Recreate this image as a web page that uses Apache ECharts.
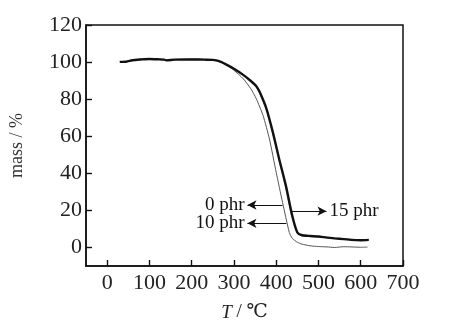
<!DOCTYPE html>
<html>
<head>
<meta charset="utf-8">
<script src="https://cdn.jsdelivr.net/npm/echarts@6/dist/echarts.min.js"></script>
<style>
  html, body { margin: 0; padding: 0; background: #fff; }
  #chart { width: 450px; height: 327px; }
</style>
</head>
<body>
<div id="chart"></div>
<script>
// TGA curves: temperature (°C) vs residual mass (%)
const temp0 = [30, 45, 60, 80, 100, 120, 135, 140, 160, 200, 230, 250, 265, 280, 300, 322, 340, 353, 369, 384, 400, 415, 431, 438, 450, 461, 480, 500, 520, 538, 560, 577, 600, 616];
const mass0 = [100.2, 100.3, 101.1, 101.5, 101.8, 101.6, 101.4, 101.0, 101.4, 101.5, 101.4, 101.3, 100.6, 98.8, 95.6, 91.0, 85.6, 80.2, 71.1, 58.5, 40.5, 24.3, 8.1, 4.9, 2.8, 1.8, 0.9, 0.5, 0.3, 0.0, 0.4, 0.3, 0.1, 0.2];

const temp10 = [30, 45, 60, 80, 100, 120, 135, 140, 160, 200, 230, 250, 265, 280, 300, 322, 340, 353, 361, 377, 392, 407, 421, 436, 448, 458, 480, 500, 520, 538, 560, 577, 600, 619];
const mass10 = [100.2, 100.3, 101.1, 101.5, 101.8, 101.6, 101.4, 101.0, 101.4, 101.5, 101.4, 101.3, 100.5, 98.8, 96.2, 92.8, 89.6, 86.4, 83.0, 74.0, 61.5, 47.0, 33.5, 17.5, 8.8, 7.2, 6.4, 6.0, 5.5, 5.1, 4.7, 4.4, 4.2, 4.3];

const temp15 = [30, 45, 60, 80, 100, 120, 135, 140, 160, 200, 230, 250, 265, 280, 300, 322, 340, 353, 361, 377, 392, 407, 423, 438, 450, 461, 480, 500, 520, 538, 560, 577, 600, 619];
const mass15 = [100.1, 100.2, 101.0, 101.4, 101.7, 101.5, 101.3, 100.9, 101.3, 101.4, 101.3, 101.2, 100.5, 98.9, 96.4, 93.1, 89.8, 87.0, 83.8, 74.8, 62.2, 47.7, 33.3, 17.1, 8.1, 6.6, 6.2, 5.9, 5.3, 4.9, 4.5, 4.1, 3.9, 4.1];

// Axis ticks
const xTicks = [0, 100, 200, 300, 400, 500, 600, 700];
const yTicks = [0, 20, 40, 60, 80, 100, 120];

// Annotation arrows: [label, y level, start T, end T]
const notes = [
  ['0 phr', 22.9, 415, 332],
  ['10 phr', 13.0, 424, 332],
  ['15 phr', 19.6, 433, 519]
];

const pair = (xs, ys) => xs.map((x, i) => [x, ys[i]]);
const FONT = '"Liberation Serif", "DejaVu Serif", serif';

function arrowLine(n) {
  return {
    silent: true,
    symbol: ['none', 'arrow'],
    symbolSize: [7, 9],
    lineStyle: { color: '#111', width: 1, type: 'solid' },
    label: {
      show: true, position: 'end', formatter: n[0], distance: 3,
      fontFamily: FONT, fontSize: 19, color: '#111'
    },
    data: [[{ coord: [n[2], n[1]] }, { coord: [n[3], n[1]] }]]
  };
}

const chart = echarts.init(document.getElementById('chart'), null, { renderer: 'canvas' });
chart.setOption({
  animation: false,
  backgroundColor: '#fff',
  grid: {
    left: 78, right: 47, top: 25, bottom: 61,
    show: true, borderColor: '#111', borderWidth: 1.5, backgroundColor: 'transparent'
  },
  xAxis: {
    type: 'value', min: -50, max: 700,
    name: '{i|T} / ℃', nameLocation: 'middle', nameGap: 37,
    nameTextStyle: {
      fontFamily: FONT, fontSize: 19, color: '#222',
      rich: { i: { fontFamily: FONT, fontSize: 19, fontStyle: 'italic', color: '#222' } }
    },
    axisLine: { show: true, onZero: false, lineStyle: { color: '#111', width: 1.5 } },
    axisTick: { show: true, inside: true, length: 6, customValues: xTicks, lineStyle: { color: '#111', width: 1.4 } },
    axisLabel: { customValues: xTicks, margin: 6, fontFamily: FONT, fontSize: 22, color: '#222' },
    splitLine: { show: false }
  },
  yAxis: {
    type: 'value', min: -10, max: 120,
    name: 'mass / %', nameLocation: 'middle', nameGap: 60,
    nameTextStyle: { fontFamily: FONT, fontSize: 18, color: '#333' },
    axisLine: { show: true, onZero: false, lineStyle: { color: '#111', width: 1.5 } },
    axisTick: { show: true, inside: true, length: 6, customValues: yTicks, lineStyle: { color: '#111', width: 1.4 } },
    axisLabel: { customValues: yTicks, margin: 4, fontFamily: FONT, fontSize: 22, color: '#222' },
    splitLine: { show: false }
  },
  series: [
    {
      name: '0 phr', type: 'line', data: pair(temp0, mass0), showSymbol: false,
      smooth: 0.2, lineStyle: { color: '#555', width: 1 }, markLine: arrowLine(notes[0])
    },
    {
      name: '10 phr', type: 'line', data: pair(temp10, mass10), showSymbol: false,
      smooth: 0.2, lineStyle: { color: '#888', width: 1 }, markLine: arrowLine(notes[1])
    },
    {
      name: '15 phr', type: 'line', data: pair(temp15, mass15), showSymbol: false,
      smooth: 0.2, lineStyle: { color: '#111', width: 2.4 }, markLine: arrowLine(notes[2])
    }
  ]
});
</script>
</body>
</html>
